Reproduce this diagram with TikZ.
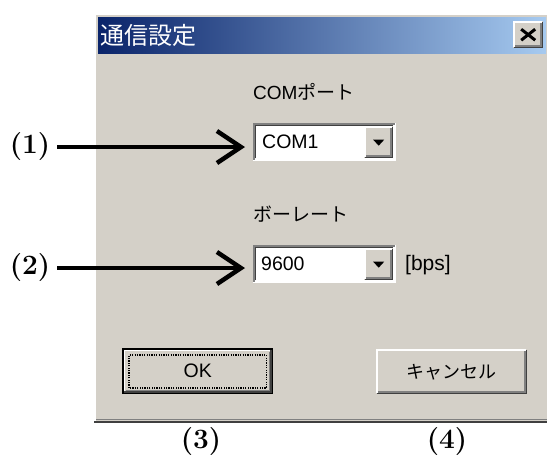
\documentclass[tikz,border=0pt]{standalone}
\usepackage{fontspec}
\usetikzlibrary{arrows.meta}
\newfontfamily\cjk{Noto Sans CJK JP}
\newfontfamily\uifont{Liberation Sans}
\definecolor{face}{RGB}{212,208,200}
\definecolor{edgedark}{RGB}{64,64,64}
\definecolor{edgemid}{RGB}{128,128,128}
\definecolor{titleL}{RGB}{10,36,106}
\definecolor{titleR}{RGB}{166,202,240}

% raised 3D frame of a button node
\newcommand\raisededge[1]{%
  \draw[line width=1.5pt,edgedark] ([shift={(0.75pt,0.75pt)}]#1.south west) -| ([shift={(-0.75pt,-0.75pt)}]#1.north east);
  \draw[line width=1.5pt,edgemid] ([shift={(2.25pt,2.25pt)}]#1.south west) -| ([shift={(-2.25pt,-2.25pt)}]#1.north east);
  \draw[line width=1.5pt,white] ([shift={(0.75pt,1.5pt)}]#1.south west) |- ([shift={(-1.5pt,-0.75pt)}]#1.north east);
}
% sunken 3D frame of an input field node
\newcommand\sunkenedge[1]{%
  \draw[line width=1.5pt,white] ([shift={(0.75pt,0.75pt)}]#1.south west) -| ([shift={(-0.75pt,-0.75pt)}]#1.north east);
  \draw[line width=1.5pt,edgemid] ([shift={(0.75pt,1.5pt)}]#1.south west) |- ([shift={(-1.5pt,-0.75pt)}]#1.north east);
  \draw[line width=1.5pt,edgedark] ([shift={(2.25pt,3pt)}]#1.south west) |- ([shift={(-3pt,-2.25pt)}]#1.north east);
}
% black down triangle of a drop-down button
\newcommand\droptriangle[1]{%
  \fill ([shift={(-5.5pt,2.5pt)}]#1.center) -- ([shift={(5.5pt,2.5pt)}]#1.center) -- ([shift={(0pt,-3.5pt)}]#1.center) -- cycle;
}

\begin{document}
\begin{tikzpicture}[x=1pt,y=-1pt,
  box/.style={draw=none,inner sep=0pt,anchor=north west},
  uitext/.style={inner sep=0pt,anchor=west,font=\uifont\fontsize{19.5}{19.5}\selectfont,text=black},
  jptext/.style={inner sep=0pt,anchor=west,font=\cjk\fontsize{19}{19}\selectfont,text=black},
  numlabel/.style={inner sep=0pt,font=\fontsize{28}{28}\selectfont\bfseries},
  pointer/.style={line width=4.5pt,shorten >=8pt,-{Straight Barb[length=24pt,width=32pt]}},
  dropdown/.style={box,anchor=north east,fill=face,minimum width=29pt,minimum height=32pt}
]
\useasboundingbox (0,0) rectangle (547,458);
\fill[white] (0,0) rectangle (547,458);

% dialog window
\fill[face] (94,13) rectangle (547,423);
\draw[line width=1.5pt,white] (94.75,421) -- (94.75,13.75) -- (547,13.75);
\draw[line width=1.5pt,edgemid] (96,419.5) -- (547,419.5);
\draw[line width=2pt,edgedark] (94,422) -- (547,422);

% title bar
\shade[left color=titleL,right color=titleR] (98,17) rectangle (546,53);
\node[inner sep=0pt,anchor=west,text=white,font=\cjk\fontsize{24}{24}\selectfont] (title) at (100,35.5) {通信設定};
\node[box,fill=face,minimum width=30pt,minimum height=27pt] (closebtn) at (513,21) {};
\raisededge{closebtn}
\draw[line width=3pt] ([shift={(-7pt,5.5pt)}]closebtn.center) -- ([shift={(7pt,-5.5pt)}]closebtn.center);
\draw[line width=3pt] ([shift={(-7pt,-5.5pt)}]closebtn.center) -- ([shift={(7pt,5.5pt)}]closebtn.center);

% COM port selector
\node[jptext] (comlbl) at (253,92) {\uifont COM\cjk ポート};
\node[box,fill=white,minimum width=143pt,minimum height=38pt] (com) at (253,123) {};
\sunkenedge{com}
\node[uitext] (comval) at (262,142) {COM1};
\node[dropdown] (comdrop) at ([shift={(-3pt,-3pt)}]com.north east) {};
\raisededge{comdrop}
\droptriangle{comdrop}

% baud rate selector
\node[jptext] (baudlbl) at (253,214) {ボーレート};
\node[box,fill=white,minimum width=143pt,minimum height=38pt] (baud) at (253,245) {};
\sunkenedge{baud}
\node[uitext] (baudval) at (261,264) {9600};
\node[dropdown] (bauddrop) at ([shift={(-3pt,-3pt)}]baud.north east) {};
\raisededge{bauddrop}
\droptriangle{bauddrop}
\node[uitext,font=\uifont\fontsize{21}{21}\selectfont] (unit) at (405,265) {[bps]};

% buttons
\node[box,fill=face,minimum width=151pt,minimum height=46pt] (ok) at (122,348) {};
\draw[line width=1.5pt] ([shift={(0.75pt,0.75pt)}]ok.south west) rectangle ([shift={(-0.75pt,-0.75pt)}]ok.north east);
\draw[line width=1.5pt,edgedark] ([shift={(2.25pt,2.25pt)}]ok.south west) -| ([shift={(-2.25pt,-2.25pt)}]ok.north east);
\draw[line width=1.5pt,white] ([shift={(2.25pt,3pt)}]ok.south west) |- ([shift={(-3pt,-2.25pt)}]ok.north east);
\draw[line width=1.5pt,edgemid] ([shift={(3.75pt,3.75pt)}]ok.south west) -| ([shift={(-3.75pt,-3.75pt)}]ok.north east);
\draw[line width=1.2pt,dash pattern=on 1.2pt off 1.2pt] ([shift={(7pt,6.5pt)}]ok.south west) rectangle ([shift={(-7pt,-7pt)}]ok.north east);
\node[uitext,anchor=center] (oktext) at (ok.center) {OK};

\node[box,fill=face,minimum width=151pt,minimum height=45pt] (cancel) at (376,349) {};
\raisededge{cancel}
\node[jptext,anchor=center,font=\cjk\fontsize{18}{18}\selectfont] (canceltext) at (cancel.center) {キャンセル};

% callout labels and pointers
\node[numlabel] (n1) at (30,147) {(1)};
\node[numlabel] (n2) at (30,268) {(2)};
\node[numlabel] (n3) at (201,442) {(3)};
\node[numlabel] (n4) at (447,442) {(4)};
\draw[pointer] ([xshift=7pt]n1.east) -- (n1.east -| com.west);
\draw[pointer] ([xshift=7pt]n2.east) -- (n2.east -| baud.west);
\end{tikzpicture}
\end{document}
